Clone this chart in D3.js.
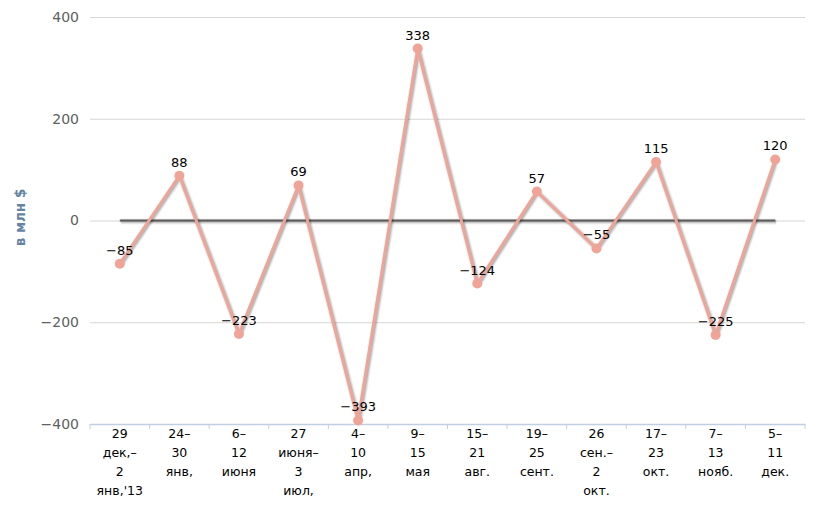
<!DOCTYPE html>
<html><head><meta charset="utf-8">
<script src="https://cdn.jsdelivr.net/npm/d3@7"></script>
<style>body{margin:0;background:#fff}svg{display:block}</style>
</head><body><svg id="c" width="823" height="520"></svg>
<script>
const categories = [
  ["29","дек,–","2","янв,'13"],
  ["24–","30","янв,"],
  ["6–","12","июня"],
  ["27","июня–","3","июл,"],
  ["4–","10","апр,"],
  ["9–","15","мая"],
  ["15–","21","авг."],
  ["19–","25","сент."],
  ["26","сен.–","2","окт."],
  ["17–","23","окт."],
  ["7–","13","нояб."],
  ["5–","11","дек."]
];
const values = [-85, 88, -223, 69, -393, 338, -124, 57, -55, 115, -225, 120];
const zeroLine = [0,0,0,0,0,0,0,0,0,0,0,0];
const yTicks = [-400, -200, 0, 200, 400];
const yTitle = "в млн $";

const svg = d3.select("#c");
const L = 90, R = 805, T = 17, B = 424;
const x = d3.scaleBand().domain(d3.range(categories.length)).range([L, R]);
const y = d3.scaleLinear().domain([-400, 400]).range([B, T]);
const cx = i => x(i) + x.bandwidth() / 2;
const fmt = d => d < 0 ? "−" + Math.abs(d) : String(d);

// grid
const yAxis = d3.axisLeft(y).tickValues(yTicks).tickSize(-(R - L)).tickPadding(11).tickFormat(fmt);
const ga = svg.append("g").attr("transform", `translate(${L},0)`).call(yAxis);
ga.select(".domain").remove();
ga.selectAll(".tick line").attr("stroke", "#d6d6d6");
ga.selectAll(".tick text").attr("fill", "#606060").style("font-family","DejaVu Sans, sans-serif").style("font-size","14px");

// x axis
const xAxis = d3.axisBottom(x).tickSize(0).tickFormat("");
const gx = svg.append("g").attr("transform", `translate(0,${B})`).call(xAxis);
gx.select(".domain").attr("stroke", "#c0d0e0").attr("stroke-width", 1.5);
gx.selectAll(".tick").remove();
const tickPos = d3.range(categories.length + 1).map(i => i < categories.length ? x(i) : R);
svg.append("g").selectAll("line").data(tickPos).join("line")
  .attr("x1", d => d).attr("x2", d => d).attr("y1", B).attr("y2", B + 5)
  .attr("stroke", "#c0d0e0").attr("stroke-width", 1);
const lbl = svg.append("g").selectAll("text").data(categories).join("text")
  .attr("x", (d, i) => cx(i)).attr("y", 438).attr("text-anchor","middle")
  .style("font-family","DejaVu Sans, sans-serif").style("font-size","12.5px").attr("fill","#000");
lbl.each(function(d, i){
  const t = d3.select(this);
  d.forEach((s, k) => t.append("tspan").attr("x", cx(i)).attr("dy", k === 0 ? 0 : 19).text(s));
});

// y title
svg.append("text").attr("transform", `translate(25,${(T+B)/2 - 3}) rotate(-90)`).attr("text-anchor","middle")
  .style("font-family","DejaVu Sans, sans-serif").style("font-size","13.5px").style("font-weight","bold")
  .attr("fill","#6584a4").text(yTitle);

const line = d3.line().x((d, i) => cx(i)).y(d => y(d));
function shadowed(data, color, width) {
  const g = svg.append("g");
  [[5, 0.05], [3, 0.1], [1, 0.15]].forEach(([w, o]) => {
    g.append("path").datum(data).attr("d", line).attr("fill","none")
      .attr("transform","translate(1,1)").attr("stroke","#000").attr("stroke-opacity", o)
      .attr("stroke-width", w + width - 1).attr("stroke-linejoin","round");
  });
  g.append("path").datum(data).attr("d", line).attr("fill","none")
    .attr("stroke", color).attr("stroke-width", width).attr("stroke-linejoin","round");
}
shadowed(zeroLine, "#5c5c5c", 2);
shadowed(values, "#f0a497", 3);

svg.append("g").selectAll("circle").data(values).join("circle")
  .attr("cx", (d, i) => cx(i)).attr("cy", d => y(d)).attr("r", 5).attr("fill","#f0a497");

// data labels
svg.append("g").selectAll("text").data(values).join("text")
  .attr("x", (d, i) => cx(i)).attr("y", d => y(d) - 9).attr("text-anchor","middle")
  .style("font-family","DejaVu Sans, sans-serif").style("font-size","13px").attr("fill","#000")
  .text(fmt);
</script></body></html>
